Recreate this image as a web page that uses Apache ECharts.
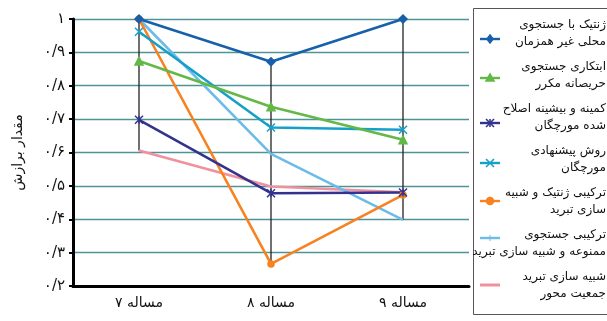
<!DOCTYPE html>
<html><head><meta charset="utf-8">
<script src="https://cdn.jsdelivr.net/npm/echarts@6/dist/echarts.min.js"></script>
<style>html,body{margin:0;padding:0;background:#fff}#c{width:607px;height:321px}</style>
</head><body><div id="c"></div>
<script>
const categories = ['مساله ۷', 'مساله ۸', 'مساله ۹'];
const yTickLabels = ['۰/۲','۰/۳','۰/۴','۰/۵','۰/۶','۰/۷','۰/۸','۰/۹','۱'];
const yAxisTitle = 'مقدار برازش';

const s1Name = 'ژنتیک با جستجوی\nمحلی غیر همزمان';
const s1 = [1.0, 0.872, 1.0];
const s2Name = 'ابتکاری جستجوی\nحریصانه مکرر';
const s2 = [0.874, 0.737, 0.638];
const s3Name = 'کمینه و بیشینه اصلاح\nشده مورچگان';
const s3 = [0.698, 0.478, 0.480];
const s4Name = 'روش پیشنهادی\nمورچگان';
const s4 = [0.962, 0.675, 0.668];
const s5Name = 'ترکیبی ژنتیک و شبیه\nسازی تبرید';
const s5 = [1.0, 0.266, 0.473];
const s6Name = 'ترکیبی جستجوی\nممنوعه و شبیه سازی تبرید';
const s6 = [1.0, 0.596, 0.398];
const s7Name = 'شبیه سازی تبرید\nجمعیت محور';
const s7 = [0.606, 0.498, 0.481];

const allSeries = [s1, s2, s3, s4, s5, s6, s7];
const highLow = categories.map((c, i) => {
  const vals = allSeries.map(s => s[i]);
  return [i, Math.min(...vals), Math.max(...vals)];
});

const FONT = 'DejaVu Sans';
const X = 'path://M0,0L10,10M10,0L0,10';
const STAR = 'path://M0,0L10,10M10,0L0,10M5,0L5,10';
const DASH = 'path://M0,5L10,5';

const legendItems = [
  { name: s1Name, data: s1, color: '#1860aa', symbol: 'diamond', size: 8, icon: 'diamond' },
  { name: s2Name, data: s2, color: '#63b847', symbol: 'triangle', size: 8, icon: 'triangle' },
  { name: s3Name, data: s3, color: '#33338f', symbol: STAR, size: 8, icon: 'star' },
  { name: s4Name, data: s4, color: '#14a0c9', symbol: X, size: 8, icon: 'x' },
  { name: s5Name, data: s5, color: '#f7821f', symbol: 'circle', size: 6, icon: 'circle' },
  { name: s6Name, data: s6, color: '#6dbbe9', symbol: DASH, size: 8, icon: 'dash' },
  { name: s7Name, data: s7, color: '#f0919c', symbol: 'none', size: 6, icon: 'none' }
];
const iconOffsets = [14, 11, 14, 12, 8, 3, 8];

function iconShape(kind, cx, cy, color) {
  const st = { stroke: color, lineWidth: 1.6, fill: color };
  const ln = { stroke: color, lineWidth: 1.6, fill: null };
  switch (kind) {
    case 'diamond': return [{ type: 'polygon', shape: { points: [[cx, cy - 4], [cx + 3, cy], [cx, cy + 4], [cx - 3, cy]] }, style: st }];
    case 'triangle': return [{ type: 'polygon', shape: { points: [[cx, cy - 4], [cx + 4, cy + 3], [cx - 4, cy + 3]] }, style: st }];
    case 'circle': return [{ type: 'circle', shape: { cx, cy, r: 3.5 }, style: st }];
    case 'x': return [
      { type: 'line', shape: { x1: cx - 4, y1: cy - 4, x2: cx + 4, y2: cy + 4 }, style: ln },
      { type: 'line', shape: { x1: cx + 4, y1: cy - 4, x2: cx - 4, y2: cy + 4 }, style: ln }];
    case 'star': return [
      { type: 'line', shape: { x1: cx - 4, y1: cy - 4, x2: cx + 4, y2: cy + 4 }, style: ln },
      { type: 'line', shape: { x1: cx + 4, y1: cy - 4, x2: cx - 4, y2: cy + 4 }, style: ln },
      { type: 'line', shape: { x1: cx, y1: cy - 4, x2: cx, y2: cy + 4 }, style: ln }];
    case 'dash': return [{ type: 'line', shape: { x1: cx, y1: cy - 3, x2: cx, y2: cy + 3 }, style: { stroke: color, lineWidth: 1 } }];
    default: return [];
  }
}

const legendGraphic = [{
  type: 'rect', shape: { x: 473.5, y: 8.5, width: 150, height: 306 },
  style: { fill: '#fff', stroke: '#555', lineWidth: 1 }, z: 10
}];
legendItems.forEach((it, i) => {
  const y0 = 25 + i * 42;
  const lines = it.name.split('\n');
  lines.forEach((l, k) => legendGraphic.push({
    type: 'text', z: 11,
    style: { text: l, x: 606, y: y0 + k * 17, align: 'right', verticalAlign: 'middle', font: '12px "DejaVu Sans"', fill: '#111' }
  }));
  const cy = y0 + iconOffsets[i], cx = 490;
  legendGraphic.push({ type: 'line', z: 11, shape: { x1: cx - 10, y1: cy, x2: cx + 10, y2: cy }, style: { stroke: it.color, lineWidth: it.icon === 'none' ? 3 : 2.4 } });
  iconShape(it.icon, cx, cy, it.color).forEach(g => { g.z = 12; legendGraphic.push(g); });
});

const chart = echarts.init(document.getElementById('c'), null, { renderer: 'canvas' });
chart.setOption({
  animation: false,
  backgroundColor: '#fff',
  grid: { left: 73, right: 138, top: 19, bottom: 35, containLabel: false },
  xAxis: {
    type: 'category', data: categories, boundaryGap: true,
    axisLine: { lineStyle: { color: '#000', width: 3 } },
    axisTick: { show: false },
    axisLabel: { color: '#111', fontSize: 14, fontFamily: FONT, margin: 10 },
    splitLine: { show: false }
  },
  yAxis: {
    type: 'value', min: 0.2, max: 1, interval: 0.1,
    name: yAxisTitle, nameLocation: 'middle', nameRotate: 90, nameGap: 48,
    nameTextStyle: { color: '#111', fontSize: 14, fontFamily: FONT },
    axisLine: { show: true, lineStyle: { color: '#000', width: 3 } },
    axisTick: { show: true, length: 4, lineStyle: { color: '#000', width: 2 } },
    axisLabel: {
      color: '#111', fontSize: 15, fontFamily: FONT, margin: 8,
      formatter: v => yTickLabels[Math.round((v - 0.2) / 0.1)]
    },
    splitLine: { lineStyle: { color: '#4f9298', width: 1.3 } }
  },
  graphic: legendGraphic,
  series: [
    {
      type: 'custom', z: 1, silent: true, data: highLow,
      renderItem: (params, api) => {
        const p1 = api.coord([api.value(0), api.value(1)]);
        const p2 = api.coord([api.value(0), api.value(2)]);
        return { type: 'line', shape: { x1: p1[0], y1: p1[1], x2: p2[0], y2: p2[1] }, style: { stroke: '#222', lineWidth: 1.3 } };
      }
    }
  ].concat(legendItems.slice().reverse().map(it => ({
    name: it.name, type: 'line', data: it.data, symbol: it.symbol, symbolSize: it.size, z: 3,
    lineStyle: { color: it.color, width: 2.6 },
    itemStyle: { color: it.color, borderColor: it.color, borderWidth: 1.5 }
  })))
});
</script></body></html>
